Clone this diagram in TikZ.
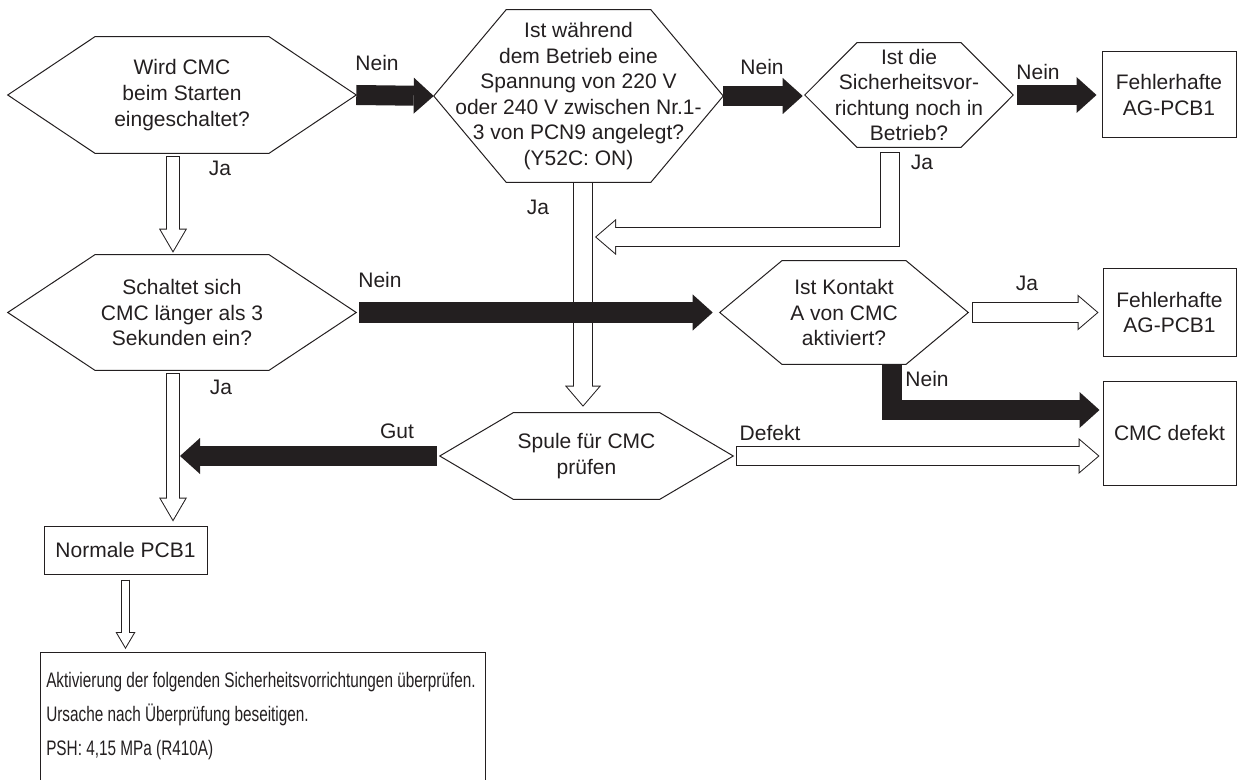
\documentclass[tikz,border=0pt]{standalone}
\usepackage{fontspec}
\setmainfont{Liberation Sans}
\newfontfamily\narrowfont[FakeStretch=0.73]{Liberation Sans}
\usetikzlibrary{arrows.meta,calc}
\definecolor{ink}{RGB}{35,31,32}

\begin{document}
\begin{tikzpicture}[x=0.75pt,y=0.75pt,yscale=-1,xscale=1,
    every node/.style={text=ink,font=\fontsize{15.75}{19.2}\selectfont},
    hexa/.style 2 args={minimum width=#1*0.75pt,minimum height=#2*0.75pt,inner sep=0pt,align=center},
    box/.style 2 args={draw=ink,line width=0.75pt,minimum width=#1*0.75pt,minimum height=#2*0.75pt,inner sep=0pt,align=center},
    hexline/.style={draw=ink,line width=0.75pt,line join=miter},
    solidarrow/.style={draw=ink,line width=15pt,-{Triangle[length=15pt,width=27pt,line width=0pt]}},
    hollowL/.style={preaction={draw=ink,line width=15pt,shorten <=0pt,shorten >=0pt,-{Triangle[length=15.75pt,width=27pt,line width=0pt]}},
      draw=white,line width=13.5pt,shorten <=0.75pt,shorten >=1.15pt,-{Triangle[length=13.85pt,width=23.74pt,line width=0pt]}},
    hollowM/.style={preaction={draw=ink,line width=10.5pt,shorten <=0pt,shorten >=0pt,-{Triangle[length=18pt,width=21pt,line width=0pt]}},
      draw=white,line width=9pt,shorten <=0.75pt,shorten >=1.49pt,-{Triangle[length=15.76pt,width=18.39pt,line width=0pt]}},
    hollowS/.style={preaction={draw=ink,line width=6.75pt,shorten <=0pt,shorten >=0pt,-{Triangle[length=12.75pt,width=15pt,line width=0pt]}},
      draw=white,line width=5.25pt,shorten <=0.75pt,shorten >=1.48pt,-{Triangle[length=10.52pt,width=12.38pt,line width=0pt]}}
  ]
    \useasboundingbox (0,0) rectangle (1237,780);
    \clip (0,0) rectangle (1237,780);

    %Shape: Hexagons (questions)
    \node[hexa={348}{116}] (q1) at (182,95) {Wird CMC\\beim Starten\\eingeschaltet?};
    \node[hexa={289}{172}] (q2) at (578.5,96) {Ist während\\dem Betrieb eine\\Spannung von 220 V\\oder 240 V zwischen Nr.1-\\3 von PCN9 angelegt?\\(Y52C: ON)};
    \node[hexa={208}{104}] (q3) at (909,95) {Ist die\\Sicherheitsvor-\\richtung noch in\\Betrieb?};
    \node[hexa={348}{115}] (q4) at (182,312.5) {Schaltet sich\\CMC länger als 3\\Sekunden ein?};
    \node[hexa={248}{103}] (q5) at (844,312.5) {Ist Kontakt\\A von CMC\\aktiviert?};
    \node[hexa={293}{86}] (q6) at (586.5,456) {Spule für CMC\\prüfen};
    \foreach \q in {q1,q2,q3,q4,q5,q6}
        \draw[hexline] (\q.west) -- ($(\q.north west)!0.25!(\q.north east)$) -- ($(\q.north west)!0.75!(\q.north east)$) -- (\q.east) -- ($(\q.south west)!0.75!(\q.south east)$) -- ($(\q.south west)!0.25!(\q.south east)$) -- cycle;

    %Shape: Rectangles (results)
    \node[box={134}{86}] (f1) at (1169,95) {Fehlerhafte\\AG-PCB1};
    \node[box={133}{87}] (f2) at (1169.5,312.5) {Fehlerhafte\\AG-PCB1};
    \node[box={133}{104}] (dft) at (1169.5,433) {CMC defekt};
    \node[box={163}{48}] (npcb) at (125.5,550) {Normale PCB1};
    \node[box={445}{160},anchor=north west] (chk) at (40,652) {};
    \node[anchor=north west,align=left,inner sep=0pt,font=\narrowfont\fontsize{15.75}{25.5}\selectfont] (chktxt) at (46,672) {Aktivierung der folgenden Sicherheitsvorrichtungen überprüfen.\\Ursache nach Überprüfung beseitigen.\\PSH: 4,15 MPa (R410A)};

    \coordinate (trunk) at (173,0);
    \coordinate (mid) at (583,0);
    \coordinate (mrg) at (595,237);

    %Block arrows: Ja / Defekt (hollow)
    \draw[hollowM] ($(trunk |- q1.south)+(0,3)$) -- ($(trunk |- q4.north)+(0,-2)$);
    \draw[hollowM] ($(trunk |- q4.south)+(0,3)$) -- ($(trunk |- npcb.north)+(0,-4)$);
    \draw[hollowS] ($(npcb.south)+(0,5)$) -- ($(npcb.south |- chk.north)+(0,-3)$);
    \draw[hollowL] (mid |- q2.south) -- ($(mid |- q6.north)+(0,-6)$);
    \draw[hollowL] ($(q3.south)+(-19.5,5)$) |- (mrg);
    \draw[hollowL] ($(q5.east)+(4,0)$) -- ($(f2.west)+(-4,0)$);
    \draw[hollowL] ($(q6.east)+(3,0)$) -- ($(q6.east -| dft.west)+(-3,0)$);

    %Block arrows: Nein / Gut (solid)
    \draw[solidarrow] (q1.east) -- (q2.west);
    \draw[solidarrow] (q2.east) -- ($(q2.east -| q3.west)+(-2,0)$);
    \draw[solidarrow] ($(q3.east)+(4,0)$) -- ($(f1.west)+(-5,0)$);
    \draw[solidarrow] ($(q4.east)+(3,0)$) -- ($(q5.west)+(-7,0)$);
    \draw[solidarrow] ($(q5.south)+(47.5,0)$) |- ($(dft.west)+(-3,-23)$);
    \draw[solidarrow] ($(q6.west)+(-3,0)$) -- ($(trunk |- q6.west)+(7,0)$);

    % Text Node
    \node (l1) at (377,63) {Nein};
    \node (l2) at (220,168) {Ja};
    \node (l3) at (762,67) {Nein};
    \node (l4) at (538,207) {Ja};
    \node (l5) at (1038,72) {Nein};
    \node (l6) at (922,162) {Ja};
    \node (l7) at (380,280) {Nein};
    \node (l8) at (221,387) {Ja};
    \node (l9) at (1027,283) {Ja};
    \node (l10) at (927,379) {Nein};
    \node (l11) at (397,431) {Gut};
    \node (l12) at (770,433) {Defekt};
\end{tikzpicture}
\end{document}
